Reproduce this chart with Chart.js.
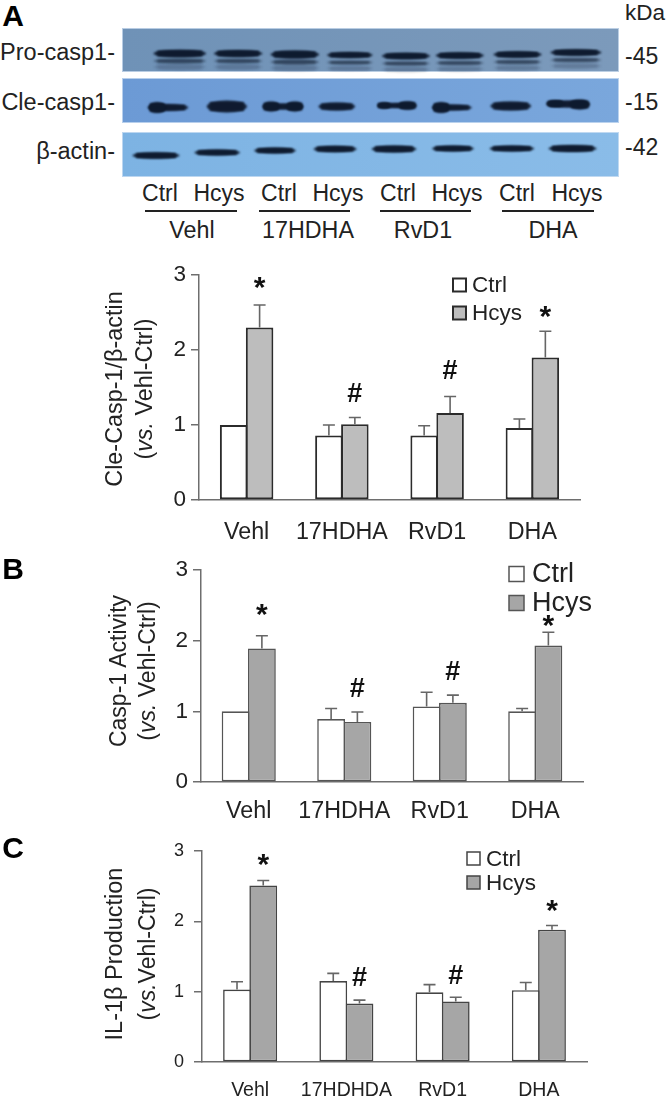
<!DOCTYPE html>
<html><head><meta charset="utf-8">
<style>
html,body{margin:0;padding:0;background:#fff;width:667px;height:1097px;overflow:hidden;font-family:"Liberation Sans",Arial,sans-serif;color:#222}
canvas{position:absolute}
.t{position:absolute;white-space:nowrap;line-height:1;transform:translate(-50%,-50%)}
.r{transform:translate(-100%,-50%)}
.l{transform:translate(0,-50%)}
.v{transform:translate(-50%,-50%) rotate(-90deg)}
.rule{position:absolute;height:2px;background:#222}
</style>
<script src="https://cdn.jsdelivr.net/npm/chart.js@4"></script>
</head><body>
<canvas id="blot" width="497" height="150" style="left:122px;top:27px;width:497px;height:150px"></canvas>
<canvas id="a" width="667" height="295" style="left:0;top:250px;width:667px;height:295px"></canvas>
<canvas id="b" width="667" height="280" style="left:0;top:545px;width:667px;height:280px"></canvas>
<canvas id="c" width="667" height="272" style="left:0;top:825px;width:667px;height:272px"></canvas>
<div id="text"></div>
<script>
// ---- data ----
const groups = ['Vehl','17HDHA','RvD1','DHA'];
const groupsC = ['Vehl','17HDHDA','RvD1','DHA'];
const seriesNames = ['Ctrl','Hcys'];

const ctrlA = [1.00,0.86,0.86,0.96];
const hcysA = [2.30,1.01,1.16,1.90];
const ctrlTopA = [1.00,1.00,0.99,1.08];
const hcysTopA = [2.60,1.10,1.38,2.25];
const marksA = ['*','#','#','*'];
const markYA = [2.89,1.40,1.71,2.50];

const ctrlB = [1.00,0.89,1.07,1.00];
const hcysB = [1.89,0.85,1.12,1.93];
const ctrlTopB = [1.00,1.04,1.27,1.04];
const hcysTopB = [2.07,0.99,1.23,2.12];
const marksB = ['*','#','#','*'];
const markYB = [2.42,1.31,1.55,2.27];

const ctrlC = [1.03,1.15,0.99,1.02];
const hcysC = [2.51,0.83,0.86,1.88];
const ctrlTopC = [1.14,1.26,1.10,1.13];
const hcysTopC = [2.58,0.88,0.92,1.94];
const marksC = ['*','#','#','*'];
const markYC = [2.86,1.19,1.21,2.21];

const yTicks = [0,1,2,3];

// western blot: lane position, gel position, band width, band thickness (gel units)
const proLane = [1.02,2.05,3.05,4.02,5.01,5.96,6.98,8.01];
const proPos  = [0.53,0.53,0.55,0.56,0.58,0.57,0.55,0.51];
const proWide = [0.93,0.86,0.86,0.81,0.85,0.85,0.85,0.90];
const proThick= [0.15,0.14,0.16,0.12,0.13,0.13,0.13,0.13];
const cleLane = [0.81,1.85,2.84,3.79,4.85,5.82,6.86,7.87];
const clePos  = [1.61,1.59,1.59,1.59,1.57,1.61,1.58,1.54];
const cleWide = [0.72,0.71,0.72,0.65,0.67,0.71,0.72,0.76];
const cleThick= [0.14,0.24,0.12,0.16,0.10,0.12,0.18,0.14];
const blobLane = [0.62,2.63,3.05,4.62,5.04,5.63,7.64,8.08];
const blobPos  = [1.61,1.59,1.59,1.57,1.57,1.61,1.53,1.55];
const blobWide = [0.30,0.30,0.30,0.24,0.32,0.30,0.30,0.35];
const blobThick= [0.22,0.20,0.20,0.13,0.17,0.22,0.14,0.20];
const actLane = [0.60,1.68,2.70,3.76,4.80,5.84,6.88,7.95];
const actPos  = [2.57,2.51,2.47,2.44,2.44,2.43,2.43,2.43];
const actWide = [0.83,0.81,0.74,0.76,0.79,0.74,0.79,0.85];
const actThick= [0.13,0.12,0.12,0.13,0.14,0.12,0.12,0.14];

// ---- western blot ----
Chart.defaults.animation = false;
Chart.defaults.responsive = false;
Chart.defaults.font.family = '"Liberation Sans",Arial,sans-serif';

const zip = (l,p,w,t,a)=>l.map((x,i)=>({x,y:p[i],w:w[i],t:t[i],a}));
const blotPlugin = {
  id:'blot',
  beforeDatasetsDraw(ch){
    const {ctx,scales:{x,y}} = ch;
    const rows = [[0.02,0.90,'#6f92b7','#7c9abb'],[1.02,1.92,'#6c9ad5','#7aa7dc'],[2.10,3,'#7db3e3','#8abce8']];
    rows.forEach(r=>{
      const g = ctx.createLinearGradient(x.left,0,x.right,0);
      g.addColorStop(0,r[2]);g.addColorStop(1,r[3]);
      ctx.fillStyle = g;
      const top=y.getPixelForValue(r[0]), h=y.getPixelForValue(r[1])-top;
      ctx.fillRect(x.left,top,x.right-x.left,h);
      ctx.strokeStyle='rgba(215,230,245,0.7)';ctx.lineWidth=1;
      ctx.strokeRect(x.left+0.5,top+0.5,x.right-x.left-1,h-1);
    });
    ctx.save();
    ctx.filter = 'blur(1.2px)';
    ch.data.datasets.forEach(ds=>ds.data.forEach(b=>{
      ctx.fillStyle = 'rgba(14,26,46,'+b.a+')';
      const cx=x.getPixelForValue(b.x), cy=y.getPixelForValue(b.y);
      const hw=(x.getPixelForValue(b.w)-x.getPixelForValue(0))/2;
      const hh=(y.getPixelForValue(b.t)-y.getPixelForValue(0))/2;
      ctx.beginPath();ctx.ellipse(cx,cy,hw,hh,0,0,Math.PI*2);ctx.fill();
      ctx.fillRect(cx-hw*0.85,cy-hh*0.75,hw*1.7,hh*1.5);
    }));
    ctx.restore();
  }
};
new Chart(document.getElementById('blot'),{
  type:'scatter',
  data:{datasets:[
    {label:'Pro-casp1 smear',data:zip(proLane,proPos.map(v=>v+0.27),proWide,proThick.map(v=>v*0.9),0.12),pointRadius:0},
    {label:'Pro-casp1 lower',data:zip(proLane,proPos.map(v=>v+0.15),proWide,proThick.map(v=>v*0.65),0.42),pointRadius:0},
    {label:'Pro-casp1',data:zip(proLane,proPos,proWide,proThick,0.95),pointRadius:0},
    {label:'Cle-casp1',data:zip(cleLane,clePos,cleWide,cleThick,0.9),pointRadius:0},
    {label:'Cle-casp1 dense',data:zip(blobLane,blobPos,blobWide,blobThick,0.95),pointRadius:0},
    {label:'β-actin',data:zip(actLane,actPos,actWide,actThick,0.95),pointRadius:0}
  ]},
  options:{
    layout:{padding:0},
    plugins:{legend:{display:false},tooltip:{enabled:false}},
    scales:{
      x:{type:'linear',display:false,min:0,max:8.77},
      y:{type:'linear',display:false,min:0,max:3,reverse:true}
    }
  },
  plugins:[blotPlugin]
});

// ---- bar panels ----
const annotate = {
  id:'annotate',
  afterDatasetsDraw(ch,_a,o){
    const {ctx,scales:{y}} = ch;
    ch.data.datasets.forEach((ds,di)=>{
      const m = ch.getDatasetMeta(di);
      ctx.strokeStyle=o.errColor;ctx.lineWidth=o.errWidth;
      ds.top.forEach((t,i)=>{
        if(t<=ds.data[i]) return;
        const px=m.data[i].x, p0=y.getPixelForValue(ds.data[i]), p1=y.getPixelForValue(t);
        ctx.beginPath();ctx.moveTo(px,p0);ctx.lineTo(px,p1);
        ctx.moveTo(px-o.cap,p1);ctx.lineTo(px+o.cap,p1);ctx.stroke();
      });
    });
    const m = ch.getDatasetMeta(1);
    ctx.fillStyle='#111';ctx.textAlign='center';ctx.textBaseline='middle';
    o.marks.forEach((s,i)=>{
      const fs = s==='*'?o.starSize:o.hashSize;
      ctx.font='bold '+fs+'px "Liberation Sans",Arial,sans-serif';
      ctx.fillText(s,m.data[i].x,y.getPixelForValue(o.markY[i])+(s==='*'?fs*0.17:0));
    });
    ctx.textAlign='left';ctx.textBaseline='middle';
    ch.data.datasets.forEach((ds,i)=>{
      const ly=o.legY[i];
      ctx.fillStyle=ds.backgroundColor;ctx.strokeStyle=ds.borderColor;ctx.lineWidth=o.legLine;
      ctx.fillRect(o.legX,ly-o.legBox/2,o.legBox,o.legBox);
      ctx.strokeRect(o.legX,ly-o.legBox/2,o.legBox,o.legBox);
      ctx.fillStyle='#222';ctx.font=o.legFont+'px "Liberation Sans",Arial,sans-serif';
      ctx.fillText(ds.label,o.legX+o.legBox+o.legGap,ly+1);
    });
  }
};
function panel(id,c){
  new Chart(document.getElementById(id),{
    type:'bar',
    data:{labels:c.labels,datasets:[
      {label:seriesNames[0],data:c.ctrl,top:c.ctrlTop,backgroundColor:'#ffffff',borderColor:c.border,borderWidth:c.bw,borderSkipped:false,categoryPercentage:c.catPct,barPercentage:1.06},
      {label:seriesNames[1],data:c.hcys,top:c.hcysTop,backgroundColor:c.fill,borderColor:c.border,borderWidth:c.bw,borderSkipped:false,categoryPercentage:c.catPct,barPercentage:1.06}
    ]},
    options:{
      layout:{padding:{left:0,right:667-c.xEnd,top:c.top,bottom:0}},
      plugins:{legend:{display:false},tooltip:{enabled:false},annotate:c.note},
      scales:{
        x:{grid:{display:false},border:{color:'#6e6e6e',width:1.5},
           ticks:{color:'#222',font:{size:c.xFont},padding:c.xPad,maxRotation:0,autoSkip:false},
           afterFit(s){s.height=c.xHeight;}},
        y:{min:0,max:3,afterBuildTicks(s){s.ticks=yTicks.map(value=>({value}));},
           grid:{drawOnChartArea:false,color:'#6e6e6e',lineWidth:1.5,tickLength:8,drawTicks:true},
           border:{color:'#6e6e6e',width:1.5},
           ticks:{color:'#222',font:{size:c.yFont},padding:c.yPad},
           afterFit(s){s.width=c.axisX;}}
      }
    },
    plugins:[annotate]
  });
}
panel('a',{labels:groups,ctrl:ctrlA,hcys:hcysA,ctrlTop:ctrlTopA,hcysTop:hcysTopA,
  fill:'#bdbdbd',border:'#2b2b2b',bw:2,catPct:0.545,axisX:199,xEnd:580,top:25,xHeight:45,xFont:23.3,yFont:22.5,xPad:11,yPad:5,
  note:{marks:marksA,markY:markYA,starSize:30,hashSize:27,errColor:'#666',errWidth:1.6,cap:6,legX:453,legY:[35,63],legBox:13,legLine:2,legGap:6,legFont:22.5}});
panel('b',{labels:groups,ctrl:ctrlB,hcys:hcysB,ctrlTop:ctrlTopB,hcysTop:hcysTopB,
  fill:'#a6a6a6',border:'#555',bw:1.6,catPct:0.55,axisX:201,xEnd:583,top:25,xHeight:43,xFont:23.3,yFont:22.5,xPad:8,yPad:5,
  note:{marks:marksB,markY:markYB,starSize:30,hashSize:27,errColor:'#666',errWidth:1.6,cap:6,legX:509,legY:[29,58],legBox:15,legLine:1.5,legGap:8,legFont:27}});
panel('c',{labels:groupsC,ctrl:ctrlC,hcys:hcysC,ctrlTop:ctrlTopC,hcysTop:hcysTopC,
  fill:'#a6a6a6',border:'#444',bw:1.6,catPct:0.545,axisX:202,xEnd:587,top:26,xHeight:35,xFont:19.5,yFont:18,xPad:9,yPad:10,
  note:{marks:marksC,markY:markYC,starSize:30,hashSize:27,errColor:'#666',errWidth:1.6,cap:6,legX:467,legY:[33.5,57.5],legBox:13,legLine:1.5,legGap:6,legFont:22.5}});

// ---- labels around the figure ----
const html = [];
const put=(s,x,y,size,cls,extra)=>html.push(`<div class="t ${cls||''}" style="left:${x}px;top:${y}px;font-size:${size}px;${extra||''}">${s}</div>`);
[['A',13,16],['B',13,569],['C',13,848]].forEach(p=>put(p[0],p[1],p[2],30,'','font-weight:bold;color:#000'));
put('kDa',625,13,22.5,'l');
[['-45',56],['-15',102],['-42',147]].forEach(p=>put(p[0],625,p[1],23,'l'));
[['Pro-casp1-',53],['Cle-casp1-',103],['β-actin-',152]].forEach(p=>put(p[0],115,p[1],23.5,'r'));
[160,219,279,338,398,457,517,577].forEach((x,i)=>put(seriesNames[i%2],x,193,23));
[[145,237],[259,350],[380,471],[502,594]].forEach(r=>html.push(`<div class="rule" style="left:${r[0]}px;width:${r[1]-r[0]}px;top:210px"></div>`));
[192,308,423,553].forEach((x,i)=>put(groups[i],x,231,23.3));
const ax=[
 ['Cle-Casp-1/β-actin',115,389,23.4,'(<i>vs.</i> Vehl-Ctrl)',145,389,23.3],
 ['Casp-1 Activity',118,671,23,'(<i>vs.</i> Vehl-Ctrl)',147,671,23],
 ['IL-1β Production',115,954,23.5,'(<i>vs.</i>Vehl-Ctrl)',147,954,23]
];
ax.forEach(a=>{put(a[0],a[1],a[2],a[3],'v');put(a[4],a[5],a[6],a[7],'v');});
document.getElementById('text').innerHTML=html.join('');
</script>
</body></html>
